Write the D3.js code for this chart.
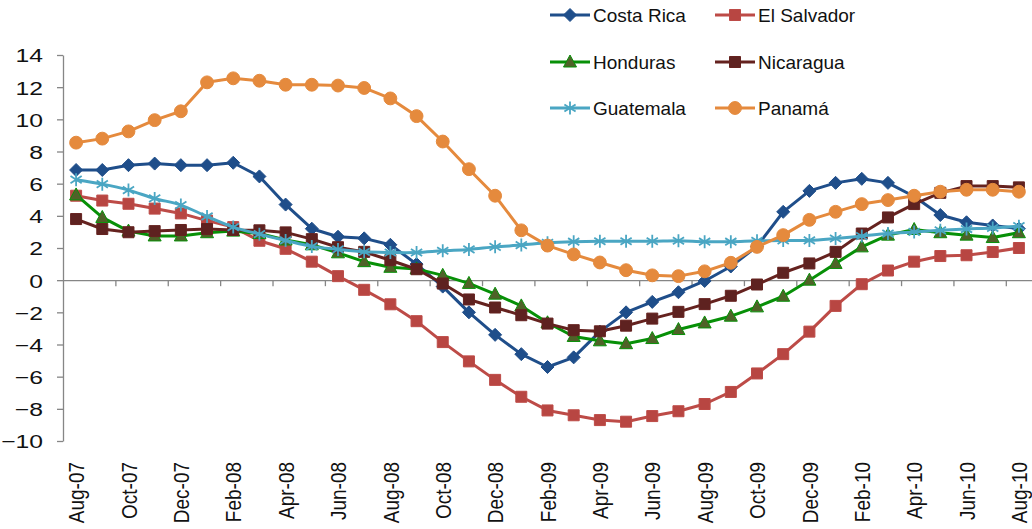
<html>
<head>
<style>
    body { margin: 0; background: #fff; }
    svg { display: block; font-family: 'Liberation Sans', Arial, sans-serif; }
    .axis path, .axis line { stroke: #868686; stroke-width: 1.3; }
    .axis text { fill: #111; font-size: 19px; }
    .legend text { fill: #111; font-size: 19px; }
</style>
</head>
<body>
<svg width="1032" height="529"></svg>
<script src="https://d3js.org/d3.v7.min.js"></script>
<script>

// months on the category axis
let months = ["Aug-07","Sep-07","Oct-07","Nov-07","Dec-07","Jan-08","Feb-08","Mar-08","Apr-08","May-08","Jun-08","Jul-08",
              "Aug-08","Sep-08","Oct-08","Nov-08","Dec-08","Jan-09","Feb-09","Mar-09","Apr-09","May-09","Jun-09","Jul-09",
              "Aug-09","Sep-09","Oct-09","Nov-09","Dec-09","Jan-10","Feb-10","Mar-10","Apr-10","May-10","Jun-10","Jul-10","Aug-10"]

let yTicks = [-10, -8, -6, -4, -2, 0, 2, 4, 6, 8, 10, 12, 14]

let costaRica = [6.85, 6.85, 7.15, 7.25, 7.15, 7.15, 7.3, 6.45, 4.7, 3.2, 2.7, 2.6, 2.2, 1.0, -0.4, -2.0, -3.4, -4.6, -5.4, -4.8, -3.2, -2.0, -1.35, -0.75, -0.05, 0.85, 2.1, 4.25, 5.55, 6.05, 6.3, 6.05, 5.2, 4.05, 3.6, 3.4, 3.2]
let elSalvador = [5.25, 4.95, 4.75, 4.45, 4.15, 3.7, 3.3, 2.45, 1.95, 1.15, 0.25, -0.6, -1.5, -2.55, -3.85, -5.05, -6.2, -7.25, -8.1, -8.4, -8.7, -8.8, -8.45, -8.15, -7.7, -6.95, -5.8, -4.6, -3.2, -1.6, -0.25, 0.6, 1.15, 1.5, 1.55, 1.75, 2.0]
let honduras = [5.3, 3.9, 3.05, 2.75, 2.75, 2.95, 3.05, 2.9, 2.5, 2.2, 1.7, 1.15, 0.8, 0.7, 0.3, -0.2, -0.87, -1.6, -2.65, -3.5, -3.77, -3.95, -3.63, -3.07, -2.66, -2.24, -1.66, -1.0, 0.0, 1.04, 2.07, 2.8, 3.15, 2.95, 2.8, 2.65, 2.95]
let nicaragua = [3.8, 3.18, 2.98, 3.05, 3.12, 3.18, 3.12, 3.1, 2.97, 2.55, 2.05, 1.76, 1.24, 0.68, -0.21, -1.2, -1.7, -2.18, -2.7, -3.11, -3.18, -2.83, -2.39, -1.97, -1.49, -0.97, -0.27, 0.46, 1.04, 1.76, 2.9, 3.9, 4.73, 5.43, 5.85, 5.85, 5.77]
let guatemala = [6.25, 5.97, 5.6, 5.08, 4.67, 3.96, 3.3, 2.86, 2.47, 2.1, 1.91, 1.76, 1.72, 1.72, 1.83, 1.91, 2.07, 2.18, 2.32, 2.39, 2.42, 2.42, 2.42, 2.45, 2.39, 2.39, 2.45, 2.47, 2.47, 2.59, 2.74, 2.9, 3.0, 3.1, 3.18, 3.25, 3.36]
let panama = [8.55, 8.8, 9.25, 9.95, 10.5, 12.3, 12.55, 12.4, 12.15, 12.15, 12.1, 11.95, 11.3, 10.2, 8.62, 6.9, 5.25, 3.1, 2.15, 1.6, 1.1, 0.62, 0.3, 0.25, 0.55, 1.08, 2.07, 2.8, 3.75, 4.25, 4.73, 4.98, 5.25, 5.5, 5.62, 5.62, 5.5]

// series in Excel order (last one drawn on top)
let series = [
    {name: "Costa Rica", values: costaRica, line: "#1f4e8a", fill: "#1f4e8a", stroke: "#1f4e8a", marker: "diamond"},
    {name: "El Salvador", values: elSalvador, line: "#bd4b47", fill: "#b84642", stroke: "#bd4b47", marker: "square"},
    {name: "Honduras", values: honduras, line: "#079007", fill: "#4f6228", stroke: "#079007", marker: "triangle"},
    {name: "Nicaragua", values: nicaragua, line: "#65221f", fill: "#5e2220", stroke: "#65221f", marker: "square"},
    {name: "Guatemala", values: guatemala, line: "#4aa6c3", fill: "none", stroke: "#4aa6c3", marker: "star", smooth: true},
    {name: "Panamá", values: panama, line: "#e58a3d", fill: "#e58a3d", stroke: "#e58a3d", marker: "circle"}
]

let svg = d3.select("svg")

let x = d3.scaleBand()
    .domain(months)
    .range([63, 1032])
    .padding(0)

let xb = d3.scaleLinear() // category boundaries, for tick marks
    .domain([0, months.length])
    .range([63, 1032])

let y = d3.scaleLinear()
    .domain([-10, 14])
    .range([441, 55])

let cx = d => x(d) + x.bandwidth() / 2

// y axis (labels a bit wide, like the original)
svg.append("g")
    .attr("class", "axis")
    .attr("transform", "translate(63,0)")
    .call(d3.axisLeft(y).tickValues(yTicks).tickSize(6).tickSizeOuter(0).tickFormat(d3.format("d")))
    .call(g => g.selectAll("text")
        .attr("x", -20 / 1.3)
        .attr("dy", "0.36em")
        .attr("transform", "scale(1.3,1)"))

// x axis line at zero, tick marks every second category boundary
let evenBounds = d3.range(2, months.length, 2)
svg.append("g")
    .attr("class", "axis")
    .attr("transform", "translate(0," + y(0) + ")")
    .call(d3.axisBottom(xb).tickValues(evenBounds).tickSize(6).tickSizeOuter(0).tickFormat(""))

// month labels at the bottom
svg.append("g")
    .attr("class", "axis")
    .attr("transform", "translate(0,441)")
    .call(d3.axisBottom(x).tickValues(months.filter((m, i) => i % 2 == 0)).tickSize(0))
    .call(g => g.select(".domain").remove())
    .call(g => g.selectAll("text")
        .attr("transform", "rotate(-90) scale(1,1.2)")
        .attr("text-anchor", "end")
        .attr("x", -21)
        .attr("y", 0)
        .attr("dy", "0.36em"))

// markers
function markerPath(type) {
    if (type == "diamond") return "M0,-6.5L6.5,0L0,6.5L-6.5,0Z"
    if (type == "square") return "M-5.5,-5.5H5.5V5.5H-5.5Z"
    if (type == "triangle") return "M0,-7L6.5,5L-6.5,5Z"
    if (type == "circle") return d3.symbol(d3.symbolCircle, 130)()
    if (type == "star") return "M0,-6.5V6.5M-5.6,-3.6L5.6,3.6M-5.6,3.6L5.6,-3.6"
}

let line = d3.line()
    .x((d, i) => cx(months[i]))
    .y(d => y(d))

let smoothLine = d3.line()
    .x((d, i) => cx(months[i]))
    .y(d => y(d))
    .curve(d3.curveCatmullRom.alpha(0.5))

series.forEach(s => {
    let g = svg.append("g")
    g.append("path")
        .attr("d", s.smooth ? smoothLine(s.values) : line(s.values))
        .style("fill", "none")
        .style("stroke", s.line)
        .style("stroke-width", 3)
        .style("stroke-linejoin", "round")

    g.selectAll(".m")
        .data(s.values)
        .enter().append("path")
        .attr("transform", (d, i) => "translate(" + cx(months[i]) + "," + y(d) + ")")
        .attr("d", markerPath(s.marker))
        .style("fill", s.fill)
        .style("stroke", s.stroke)
        .style("stroke-width", s.marker == "star" ? 1.8 : 1)
})

// legend, 3 rows by 2 columns
let legendCols = [550, 715]
let legendRows = [15, 62, 108]

let legend = svg.append("g").attr("class", "legend")
    .selectAll("g")
    .data(series)
    .enter().append("g")
    .attr("transform", (d, i) => "translate(" + legendCols[i % 2] + "," + legendRows[Math.floor(i / 2)] + ")")

legend.append("line")
    .attr("x1", 0).attr("x2", 40)
    .style("stroke", d => d.line)
    .style("stroke-width", 3)

legend.append("path")
    .attr("transform", "translate(20,0)")
    .attr("d", d => markerPath(d.marker))
    .style("fill", d => d.fill)
    .style("stroke", d => d.stroke)
    .style("stroke-width", d => d.marker == "star" ? 1.8 : 1)

legend.append("text")
    .attr("x", 43)
    .attr("dy", "0.36em")
    .text(d => d.name)

</script>
</body>
</html>
